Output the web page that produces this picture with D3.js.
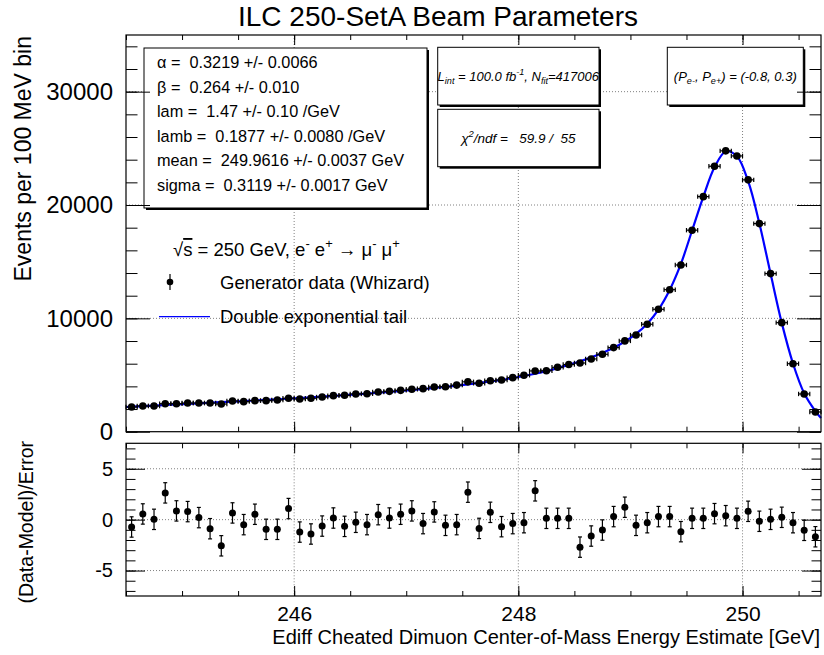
<!DOCTYPE html>
<html>
<head>
<meta charset="utf-8">
<script src="https://cdn.jsdelivr.net/npm/d3@7"></script>
<style>
  body { margin: 0; background: #fff; }
  svg text { font-family: "Liberation Sans", Arial, Helvetica, sans-serif; fill: #000; white-space: pre; }
</style>
</head>
<body>
<svg id="chart" width="824" height="655"></svg>
<script>
// ---- data: dimuon energy histogram, 100 MeV bins ----
const binCenters = [244.55,244.65,244.75,244.85,244.95,245.05,245.15,245.25,245.35,245.45,
  245.55,245.65,245.75,245.85,245.95,246.05,246.15,246.25,246.35,246.45,
  246.55,246.65,246.75,246.85,246.95,247.05,247.15,247.25,247.35,247.45,
  247.55,247.65,247.75,247.85,247.95,248.05,248.15,248.25,248.35,248.45,
  248.55,248.65,248.75,248.85,248.95,249.05,249.15,249.25,249.35,249.45,
  249.55,249.65,249.75,249.85,249.95,250.05,250.15,250.25,250.35,250.45,
  250.55,250.65];
const binHalfWidth = 0.05;

const counts = [2180,2270,2270,2470,2470,2530,2530,2530,2440,2710,
  2650,2740,2740,2800,2950,2890,2950,3060,3180,3210,
  3330,3350,3500,3560,3650,3740,3800,3950,3970,4110,
  4400,4270,4500,4560,4770,4980,5360,5380,5680,5930,
  6060,6420,6830,7420,8010,8530,9480,10800,12530,14710,
  17780,20740,23420,24780,24330,22220,18360,13950,9620,6000,
  3330,1740];

// (data - model) / error per bin
const residuals = [-0.72,0.56,0.03,2.63,0.86,0.79,0.20,-0.89,-2.57,0.66,
  -0.49,0.53,-0.95,-0.95,1.09,-1.22,-1.41,-0.63,0.16,-0.66,
  -0.26,-0.49,0.49,0.16,0.53,0.86,-0.39,0.76,-0.56,-0.49,
  2.70,-0.86,0.72,-0.69,-0.39,-0.30,2.83,0.13,0.13,0.13,
  -2.70,-1.61,-1.02,0.30,1.22,-0.56,-0.30,0.30,0.30,-1.18,
  0.13,0.13,0.59,0.39,0.13,0.82,-0.16,0.03,0.23,-0.30,
  -1.05,-1.68];
const residualError = 1;

// fitted double exponential tail model, sampled at the bin centres
const fitValues = [2205,2255,2305,2355,2405,2455,2505,2555,2605,2655,
  2705,2755,2805,2860,2915,2970,3030,3090,3155,3220,
  3290,3360,3435,3510,3590,3675,3765,3860,3960,4065,
  4180,4300,4430,4575,4735,4915,5115,5345,5610,5900,
  6220,6560,6950,7400,7960,8640,9530,10770,12500,14800,
  17750,20720,23330,24720,24310,22100,18390,13950,9600,6020,
  3390,1810];
const fitEdgeX = [244.5, 250.7];
const fitEdgeY = [2180, 1200];

// axes
const xDomain = [244.5, 250.7];
const xMajorTicks = [246, 248, 250];
const xTickLabels = ["246", "248", "250"];
const yMainDomain = [0, 35000];
const yMainMajorTicks = [0, 10000, 20000, 30000];
const yMainTickLabels = ["0", "10000", "20000", "30000"];
const yResDomain = [-7.5, 7.5];
const yResMajorTicks = [-5, 0, 5];
const yResTickLabels = ["-5", "0", "5"];

// fit results
const paramNames  = ["\u03b1", "\u03b2", "lam", "lamb", "mean", "sigma"];
const paramValues = ["0.3219", "0.264", "1.47", "0.1877", "249.9616", "0.3119"];
const paramErrors = ["0.0066", "0.010", "0.10", "0.0080", "0.0037", "0.0017"];
const paramUnits  = ["", "", " /GeV", " /GeV", " GeV", " GeV"];

const titleText = "ILC 250-SetA Beam Parameters";
const xTitle = "Ediff Cheated Dimuon Center-of-Mass Energy Estimate [GeV]";
const yTitle = "Events per 100 MeV bin";
const yResTitle = "(Data-Model)/Error";
const legendLabels = ["Generator data (Whizard)", "Double exponential tail"];

// ---- layout ----
const svg = d3.select("#chart");
const L = 126, R = 821;
const mainTop = 35, mainBottom = 431.7;
const resTop = 443.3, resBottom = 596;
const FONT = '"Liberation Sans", Arial, Helvetica, sans-serif';

const x = d3.scaleLinear().domain(xDomain).range([L, R]);
const yMain = d3.scaleLinear().domain(yMainDomain).range([mainBottom, mainTop]);
const yRes = d3.scaleLinear().domain(yResDomain).range([resBottom, resTop]);

const xMinorTicks = d3.range(xDomain[0], xDomain[1] + 1e-9, 0.5);
const yMainMinorTicks = d3.range(0, yMainDomain[1] + 1, 2000);
const yResMinorTicks = d3.range(-7, 7.5, 1);

// ---- title ----
svg.append("text").attr("x", 438).attr("y", 26).attr("text-anchor", "middle")
  .attr("font-size", 28).text(titleText);

// ---- dotted grid ----
function grid(yScale, yTicks, top, bottom) {
  const g = svg.append("g").attr("stroke", "#808080").attr("stroke-width", 1)
    .attr("stroke-dasharray", "1,2");
  g.selectAll(".gx").data(xMajorTicks).join("line")
    .attr("x1", d => x(d)).attr("x2", d => x(d)).attr("y1", top).attr("y2", bottom);
  g.selectAll(".gy").data(yTicks.filter(t => yScale(t) > top + 1 && yScale(t) < bottom - 1)).join("line")
    .attr("x1", L).attr("x2", R).attr("y1", d => yScale(d)).attr("y2", d => yScale(d));
}
grid(yMain, yMainMajorTicks, mainTop, mainBottom);
grid(yRes, yResMajorTicks, resTop, resBottom);

// ---- text boxes with drop shadow ----
function paveBox(x0, y0, x1, y1) {
  svg.append("rect").attr("x", x0 + 2).attr("y", y0 + 2).attr("width", x1 - x0).attr("height", y1 - y0)
    .attr("fill", "#000");
  svg.append("rect").attr("x", x0).attr("y", y0).attr("width", x1 - x0).attr("height", y1 - y0)
    .attr("fill", "#fff").attr("stroke", "#000").attr("stroke-width", 1);
}

// text with sub/superscript segments
function richText(px, py, parts, fs, anchor, italic) {
  const t = svg.append("text").attr("x", px).attr("y", py).attr("font-size", fs)
    .attr("text-anchor", anchor).attr("xml:space", "preserve");
  if (italic) t.attr("font-style", "italic");
  let shift = 0;
  parts.forEach(([str, kind]) => {
    const target = kind === "sub" ? 0.3 * fs : kind === "sup" ? -0.42 * fs : 0;
    const ts = t.append("tspan").attr("dy", target - shift).text(str);
    if (kind === "sub" || kind === "sup") ts.attr("font-size", fs * 0.7);
    if (kind === "over") ts.style("text-decoration", "overline");
    shift = target;
  });
  return t;
}

// fit parameter box
paveBox(144, 48, 427, 208);
paramNames.forEach((n, i) => {
  svg.append("text").attr("x", 157).attr("y", 68 + i * 24.6).attr("font-size", 16.3)
    .attr("xml:space", "preserve")
    .text(`${n} =  ${paramValues[i]} +/- ${paramErrors[i]}${paramUnits[i]}`);
});

// luminosity box
paveBox(437.7, 47.3, 599, 105);
richText(518.3, 80.5, [["L"], ["int", "sub"], [" = 100.0 fb"], ["-1", "sup"], [", N"], ["fit", "sub"], ["=417006"]],
  13, "middle", true);

// chi2 box
paveBox(437.7, 109.3, 599, 166.7);
richText(518.3, 142.5, [["\u03c7"], ["2", "sup"], ["/ndf =   59.9 /  55"]], 13.5, "middle", true);

// polarisation box
paveBox(667.3, 47.3, 803.3, 105);
richText(735.3, 80.5, [["(P"], ["e-", "sub"], [", P"], ["e+", "sub"], [") = (-0.8, 0.3)"]], 13, "middle", true);

// ---- legend ----
richText(173, 256, [["\u221a"], ["s", "over"], [" = 250 GeV, e"], ["-", "sup"], [" e"], ["+", "sup"],
  [" \u2192 \u03bc"], ["-", "sup"], [" \u03bc"], ["+", "sup"]], 18.5, "start", false);
svg.append("line").attr("x1", 170).attr("x2", 170).attr("y1", 274).attr("y2", 290)
  .attr("stroke", "#000").attr("stroke-width", 1.2);
svg.append("circle").attr("cx", 170).attr("cy", 282).attr("r", 3.3).attr("fill", "#000");
svg.append("text").attr("x", 220).attr("y", 288.6).attr("font-size", 18.5).text(legendLabels[0]);
svg.append("line").attr("x1", 159).attr("x2", 210).attr("y1", 316.7).attr("y2", 316.7)
  .attr("stroke", "#0000ff").attr("stroke-width", 1.3);
svg.append("text").attr("x", 220).attr("y", 322.6).attr("font-size", 18.5).text(legendLabels[1]);

// ---- fit curve ----
const fitPts = [[fitEdgeX[0], fitEdgeY[0]]]
  .concat(binCenters.map((b, i) => [b, fitValues[i]]))
  .concat([[fitEdgeX[1], fitEdgeY[1]]]);
const fitLine = d3.line().x(d => x(d[0])).y(d => yMain(d[1])).curve(d3.curveCatmullRom.alpha(0.5));
svg.append("path").attr("d", fitLine(fitPts)).attr("fill", "none")
  .attr("stroke", "#0000ff").attr("stroke-width", 2.2);

// ---- data points with bin-width error bars ----
const pts = binCenters.map((b, i) => ({ x: b, y: counts[i], r: residuals[i] }));
const gData = svg.append("g").attr("stroke", "#000").attr("stroke-width", 1.2);
gData.selectAll(".hb").data(pts).join("line")
  .attr("x1", d => x(d.x - binHalfWidth)).attr("x2", d => x(d.x + binHalfWidth))
  .attr("y1", d => yMain(d.y)).attr("y2", d => yMain(d.y));
gData.selectAll(".cl").data(pts).join("line")
  .attr("x1", d => x(d.x - binHalfWidth)).attr("x2", d => x(d.x - binHalfWidth))
  .attr("y1", d => yMain(d.y) - 2.2).attr("y2", d => yMain(d.y) + 2.2);
gData.selectAll(".cr").data(pts).join("line")
  .attr("x1", d => x(d.x + binHalfWidth)).attr("x2", d => x(d.x + binHalfWidth))
  .attr("y1", d => yMain(d.y) - 2.2).attr("y2", d => yMain(d.y) + 2.2);
svg.append("g").selectAll("circle").data(pts).join("circle")
  .attr("cx", d => x(d.x)).attr("cy", d => yMain(d.y)).attr("r", 3.8).attr("fill", "#000");

// ---- residual points ----
const gRes = svg.append("g").attr("stroke", "#000").attr("stroke-width", 1.2);
gRes.selectAll(".vb").data(pts).join("line")
  .attr("x1", d => x(d.x)).attr("x2", d => x(d.x))
  .attr("y1", d => yRes(d.r - residualError)).attr("y2", d => yRes(d.r + residualError));
gRes.selectAll(".ct").data(pts).join("line")
  .attr("x1", d => x(d.x) - 2).attr("x2", d => x(d.x) + 2)
  .attr("y1", d => yRes(d.r + residualError)).attr("y2", d => yRes(d.r + residualError));
gRes.selectAll(".cb").data(pts).join("line")
  .attr("x1", d => x(d.x) - 2).attr("x2", d => x(d.x) + 2)
  .attr("y1", d => yRes(d.r - residualError)).attr("y2", d => yRes(d.r - residualError));
svg.append("g").selectAll("circle").data(pts).join("circle")
  .attr("cx", d => x(d.x)).attr("cy", d => yRes(d.r)).attr("r", 3.5).attr("fill", "#000");

// ---- frames and inward ticks ----
function addAxis(axis, tx, ty) {
  const g = svg.append("g").attr("transform", `translate(${tx},${ty})`).call(axis);
  g.select(".domain").remove();
  g.attr("font-family", FONT);
  g.selectAll("line").attr("stroke", "#000").attr("stroke-width", 1);
  return g;
}
function panelTicks(yScale, yMajor, yMinor, top, bottom, xMaj, xMin, yMaj, yMin) {
  // x ticks top & bottom
  addAxis(d3.axisBottom(x).tickValues(xMajorTicks).tickSize(-xMaj).tickFormat(""), 0, bottom);
  addAxis(d3.axisBottom(x).tickValues(xMinorTicks).tickSize(-xMin).tickFormat(""), 0, bottom);
  addAxis(d3.axisTop(x).tickValues(xMajorTicks).tickSize(-xMaj).tickFormat(""), 0, top);
  addAxis(d3.axisTop(x).tickValues(xMinorTicks).tickSize(-xMin).tickFormat(""), 0, top);
  // y ticks left & right
  addAxis(d3.axisLeft(yScale).tickValues(yMinor).tickSize(-yMin).tickFormat(""), L, 0);
  addAxis(d3.axisRight(yScale).tickValues(yMinor).tickSize(-yMin).tickFormat(""), R, 0);
  addAxis(d3.axisRight(yScale).tickValues(yMajor).tickSize(-yMaj).tickFormat(""), R, 0);
  svg.append("rect").attr("x", L).attr("y", top).attr("width", R - L).attr("height", bottom - top)
    .attr("fill", "none").attr("stroke", "#000").attr("stroke-width", 1.2);
}
panelTicks(yMain, yMainMajorTicks, yMainMinorTicks, mainTop, mainBottom, 10, 5, 24, 11.5);
panelTicks(yRes, yResMajorTicks, yResMinorTicks, resTop, resBottom, 10, 5, 19, 9.5);

// labelled left axes
const yMainAxis = addAxis(d3.axisLeft(yMain).tickValues(yMainMajorTicks).tickSize(-24).tickPadding(13)
  .tickFormat((d, i) => yMainTickLabels[i]), L, 0);
yMainAxis.attr("font-size", 24);
const yResAxis = addAxis(d3.axisLeft(yRes).tickValues(yResMajorTicks).tickSize(-19).tickPadding(13)
  .tickFormat((d, i) => yResTickLabels[i]), L, 0);
yResAxis.attr("font-size", 20);
const xAxis = addAxis(d3.axisBottom(x).tickValues(xMajorTicks).tickSize(0).tickPadding(10)
  .tickFormat((d, i) => xTickLabels[i]), 0, resBottom);
xAxis.attr("font-size", 21);

// ---- axis titles ----
svg.append("text").attr("x", 820).attr("y", 644).attr("text-anchor", "end")
  .attr("font-size", 20).text(xTitle);
svg.append("text").attr("transform", "translate(31,36) rotate(-90)").attr("text-anchor", "end")
  .attr("font-size", 23).text(yTitle);
svg.append("text").attr("transform", "translate(33,441) rotate(-90)").attr("text-anchor", "end")
  .attr("font-size", 19.5).text(yResTitle);
</script>
</body>
</html>
